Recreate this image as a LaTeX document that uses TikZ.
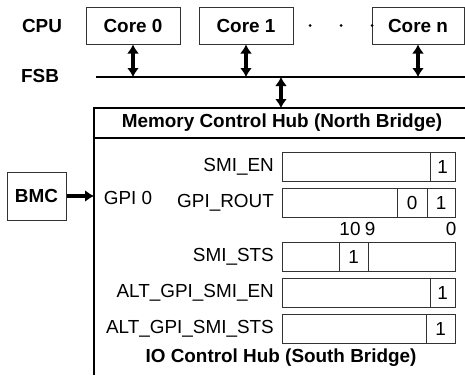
\documentclass[tikz,border=0pt]{standalone}
\usepackage{fontspec}
\setmainfont{Liberation Sans}
\usetikzlibrary{arrows.meta}

\begin{document}
\begin{tikzpicture}[x=1pt,y=-1pt,
  txt/.style={font=\fontsize{18.9}{22}\selectfont, inner sep=0pt},
  btxt/.style={font=\fontsize{18.9}{22}\selectfont\bfseries, inner sep=0pt},
  corebox/.style={draw=black!80, line width=1pt, minimum height=37pt, inner sep=0pt,
    font=\fontsize{18.9}{22}\selectfont\bfseries},
  regbox/.style={draw=black!80, line width=1pt, minimum width=173pt, minimum height=29pt, inner sep=0pt},
  cell/.style={draw=black!80, line width=1pt, minimum height=29pt, inner sep=0pt,
    font=\fontsize{18.9}{22}\selectfont},
  thick line/.style={line width=2pt},
  busarrow/.style={line width=3.4pt, {Latex[length=9pt,width=12pt]}-{Latex[length=9pt,width=12pt]}},
  onearrow/.style={line width=3.4pt, -{Latex[length=9pt,width=12pt]}}
]
\useasboundingbox (0,0) rectangle (465,375);

% CPU cores
\node[btxt] (cpu) at (42,25.5) {CPU};
\node[corebox, minimum width=94pt] (core0) at (133,25.5) {Core 0};
\node[corebox, minimum width=94pt] (core1) at (246,25.5) {Core 1};
\node[corebox, minimum width=92pt] (coren) at (418,25.5) {Core n};
\foreach \x/\n in {310/d1,341/d2,372/d3}
  \fill (\x,25.5) circle (1.5pt) coordinate (\n);

% front side bus
\node[btxt] (fsb) at (40,76) {FSB};
\coordinate (fsbL) at (96,77);
\coordinate (fsbR) at (465,77);
\draw[thick line] (fsbL) -- (fsbR);
\draw[busarrow] (core0.south) -- (core0.south |- fsbL);
\draw[busarrow] (core1.south) -- (core1.south |- fsbL);
\draw[busarrow] (coren.south) -- (coren.south |- fsbL);

% chipset frame
\coordinate (hubTL) at (94,108);
\coordinate (hubTR) at (465,108);
\coordinate (hubML) at (94,137.5);
\coordinate (hubMR) at (465,137.5);
\coordinate (hubBL) at (94,375);
\coordinate (tap) at (281,77);
\draw[thick line] (hubTR) -- (hubTL) -- (hubBL);
\draw[thick line] (hubML) -- (hubMR);
\draw[busarrow] (tap) -- (tap |- hubTL);
\node[btxt] (mch) at (282,123) {Memory Control Hub (North Bridge)};
\node[btxt] (ich) at (281,358) {IO Control Hub (South Bridge)};

% registers
\node[regbox] (smien) at (368.5,166.5) {};
\node[cell, minimum width=25pt] (smien0) at (442.5,166.5) {1};
\node[txt, anchor=east] (smienL) at (274,166.5) {SMI\_EN};

\node[regbox] (rout) at (368.5,202.5) {};
\node[cell, minimum width=30pt] (rout1) at (412,202.5) {0};
\node[cell, minimum width=28pt] (rout0) at (441,202.5) {1};
\node[txt, anchor=east] (routL) at (274,202.5) {GPI\_ROUT};

\node[txt] (b10) at (350,229) {10};
\node[txt] (b9) at (370,229) {9};
\node[txt] (b0) at (451,229) {0};

\node[regbox] (sts) at (368.5,256.5) {};
\node[cell, minimum width=29pt] (sts9) at (353.5,256.5) {1};
\node[txt, anchor=east] (stsL) at (274,256.5) {SMI\_STS};

\node[regbox] (alten) at (368.5,293) {};
\node[cell, minimum width=25pt] (alten0) at (442.5,293) {1};
\node[txt, anchor=east] (altenL) at (274,293) {ALT\_GPI\_SMI\_EN};

\node[regbox] (altsts) at (368.5,329) {};
\node[cell, minimum width=29pt] (altsts0) at (440.5,329) {1};
\node[txt, anchor=east] (altstsL) at (274,329) {ALT\_GPI\_SMI\_STS};

% BMC input
\node[txt] (gpi) at (128,198) {GPI 0};
\node[draw=black!80, line width=1pt, minimum width=59pt, minimum height=48pt, inner sep=0pt,
  font=\fontsize{18.9}{22}\selectfont\bfseries] (bmc) at (36.5,196) {BMC};
\draw[onearrow] (bmc.east) -- (bmc.east -| hubTL);
\end{tikzpicture}
\end{document}
